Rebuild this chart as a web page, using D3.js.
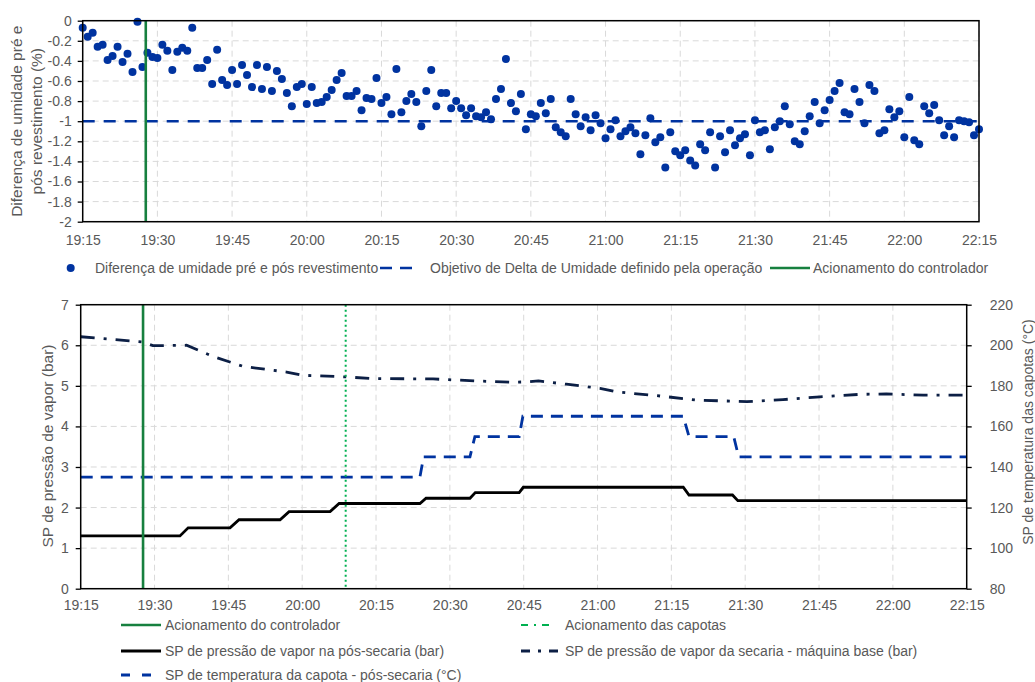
<!DOCTYPE html>
<html>
<head>
<meta charset="utf-8">
<script src="https://cdn.jsdelivr.net/npm/d3@7"></script>
<style>
  body { margin: 0; background: #fff; }
  svg text { font-family: "Liberation Sans", Arial, sans-serif; fill: #595959; font-size: 14px; }
</style>
</head>
<body>
<svg id="chart" width="1035" height="682"></svg>
<script>
// ---------- data ----------
const startTime = "19:15";
const endTime = "22:15";
const timeTicks = ["19:15","19:30","19:45","20:00","20:15","20:30","20:45","21:00","21:15","21:30","21:45","22:00","22:15"];

// humidity difference (pre vs post coating), one reading per minute from 19:15
const humidityDiff = [
  -0.07,-0.16,-0.12,-0.26,-0.24,-0.39,-0.35,-0.26,-0.41,-0.33,
  -0.51,-0.01,-0.46,-0.32,-0.36,-0.37,-0.24,-0.30,-0.49,-0.31,
  -0.27,-0.30,-0.07,-0.47,-0.47,-0.39,-0.63,-0.29,-0.59,-0.64,
  -0.49,-0.63,-0.44,-0.54,-0.66,-0.44,-0.68,-0.46,-0.70,-0.50,
  -0.58,-0.72,-0.85,-0.66,-0.63,-0.83,-0.66,-0.82,-0.81,-0.76,
  -0.69,-0.59,-0.52,-0.75,-0.75,-0.70,-0.89,-0.77,-0.78,-0.57,
  -0.82,-0.76,-0.93,-0.48,-0.91,-0.80,-0.73,-0.81,-1.05,-0.70,
  -0.49,-0.85,-0.72,-0.72,-0.87,-0.80,-0.87,-0.94,-0.87,-0.95,
  -0.96,-0.91,-0.98,-0.78,-0.68,-0.38,-0.82,-0.90,-0.73,-1.08,
  -0.93,-0.95,-0.82,-0.92,-0.78,-1.06,-1.11,-1.15,-0.78,-0.93,
  -1.05,-0.96,-1.09,-0.94,-1.02,-1.17,-1.08,-0.99,-1.15,-1.10,
  -1.06,-1.12,-1.33,-1.14,-0.97,-1.21,-1.16,-1.46,-1.11,-1.30,
  -1.34,-1.29,-1.39,-1.44,-1.23,-1.29,-1.11,-1.46,-1.15,-1.31,
  -1.09,-1.24,-1.17,-1.13,-1.34,-0.99,-1.11,-1.09,-1.28,-1.06,
  -1.00,-0.85,-1.03,-1.20,-1.23,-1.10,-0.95,-0.81,-1.02,-0.89,
  -0.79,-0.70,-0.62,-0.91,-0.93,-0.68,-0.81,-1.02,-0.64,-0.70,
  -1.12,-1.09,-0.88,-0.96,-0.90,-1.16,-0.76,-1.19,-1.23,-0.85,
  -0.92,-0.84,-0.99,-1.14,-1.05,-1.16,-0.99,-1.00,-1.01,-1.14,
  -1.08
];
const humidityTarget = -1;
const humidityTicks = [0,-0.2,-0.4,-0.6,-0.8,-1,-1.2,-1.4,-1.6,-1.8,-2];

const controllerOn = "19:27:40";
const hoodsOn = "20:08:50";

// post-dryer steam pressure set point (bar)
const postDryerSteamSP = [
  ["19:15:00",1.3],["19:35:10",1.3],["19:36:50",1.5],["19:45:20",1.5],["19:47:10",1.7],
  ["19:55:30",1.7],["19:57:20",1.9],["20:05:40",1.9],["20:07:30",2.1],["20:23:55",2.1],
  ["20:25:10",2.23],["20:34:05",2.23],["20:35:10",2.37],["20:44:05",2.37],["20:44:55",2.5],
  ["21:17:25",2.5],["21:18:35",2.31],["21:27:25",2.31],["21:28:30",2.17],["22:15:00",2.17]
];
// base machine dryer steam pressure set point (bar)
const baseDryerSteamSP = [
  ["19:15:00",6.21],["19:27:40",6.08],["19:29:40",5.99],["19:36:30",6.0],["19:42:00",5.72],
  ["19:48:00",5.48],["19:56:50",5.34],["20:00:10",5.26],["20:09:00",5.22],["20:13:50",5.18],
  ["20:26:35",5.17],["20:35:25",5.12],["20:42:55",5.09],["20:45:55",5.1],["20:48:00",5.12],
  ["20:53:40",5.04],["21:00:30",4.94],["21:03:55",4.85],["21:12:40",4.75],["21:20:05",4.65],
  ["21:30:20",4.61],["21:37:40",4.66],["21:45:10",4.73],["21:53:20",4.79],["21:58:40",4.8],
  ["22:06:10",4.77],["22:15:00",4.77]
];
// hood temperature set point (°C)
const hoodTempSP = [
  ["19:15:00",135],["20:23:55",135],["20:24:40",145],["20:34:05",145],["20:35:05",155],
  ["20:44:05",155],["20:44:50",165],["21:17:25",165],["21:18:35",155],["21:27:40",155],
  ["21:28:40",145],["22:15:00",145]
];
const pressureTicks = [0,1,2,3,4,5,6,7];
const tempTicks = [80,100,120,140,160,180,200,220];

// ---------- helpers ----------
const parseT = s => d3.timeParse("%H:%M:%S")(s.length === 5 ? s + ":00" : s);
const t0 = parseT(startTime), t1 = parseT(endTime);
const tickDates = timeTicks.map(parseT);
const fmtTime = d3.timeFormat("%H:%M");

const COL_DOT = "#0033A0";
const COL_GREEN = "#17803F";
const COL_LGREEN = "#00B050";
const COL_NAVY = "#0C1F45";
const COL_GRID = "#D9D9D9";
const COL_TXT = "#595959";

const svg = d3.select("#chart");

function grid(g, x, y, xTicks, yTicks, x0, x1, y0, y1) {
  g.selectAll(".hg").data(yTicks).join("line")
    .attr("x1", x0).attr("x2", x1)
    .attr("y1", d => y(d)).attr("y2", d => y(d))
    .attr("stroke", COL_GRID).attr("stroke-width", 1).attr("stroke-dasharray", "6,4");
  g.selectAll(".vg").data(xTicks).join("line")
    .attr("y1", y0).attr("y2", y1)
    .attr("x1", d => x(d)).attr("x2", d => x(d))
    .attr("stroke", COL_GRID).attr("stroke-width", 1).attr("stroke-dasharray", "6,4");
}

function styleAxis(g) {
  g.selectAll("path.domain").remove();
  g.selectAll(".tick line").attr("stroke", "#000").attr("stroke-width", 1.3);
  g.selectAll(".tick text").attr("fill", COL_TXT)
    .style("font-family", '"Liberation Sans", Arial, sans-serif').style("font-size", "14px");
}

// ---------- top chart: humidity difference ----------
{
  const L = 82.7, R = 979, T = 20.7, B = 221.7;
  const x = d3.scaleTime().domain([t0, t1]).range([L, R]);
  const y = d3.scaleLinear().domain([-2, 0]).range([B, T]);
  const g = svg.append("g");

  grid(g.append("g"), x, y, tickDates, humidityTicks, L, R, T, B);

  const pts = humidityDiff.map((v, i) => ({ t: d3.timeMinute.offset(t0, i), v }));
  g.append("g").selectAll("circle").data(pts).join("circle")
    .attr("cx", d => x(d.t)).attr("cy", d => y(d.v)).attr("r", 4)
    .attr("fill", COL_DOT);

  g.append("line")
    .attr("x1", L).attr("x2", R).attr("y1", y(humidityTarget)).attr("y2", y(humidityTarget))
    .attr("stroke", COL_DOT).attr("stroke-width", 2.6).attr("stroke-dasharray", "12,9");

  g.append("line")
    .attr("x1", x(parseT(controllerOn))).attr("x2", x(parseT(controllerOn)))
    .attr("y1", T).attr("y2", B)
    .attr("stroke", COL_GREEN).attr("stroke-width", 2.6);

  g.append("rect").attr("x", L).attr("y", T).attr("width", R - L).attr("height", B - T)
    .attr("fill", "none").attr("stroke", "#000").attr("stroke-width", 1.5);

  const ay = g.append("g").attr("transform", `translate(${L},0)`)
    .call(d3.axisLeft(y).tickValues(humidityTicks).tickSize(5).tickPadding(6)
      .tickFormat(d => String(d)));
  styleAxis(ay);

  const ax = g.append("g").attr("transform", `translate(0,${B})`)
    .call(d3.axisBottom(x).tickValues(tickDates).tickSize(0).tickPadding(13).tickFormat(fmtTime));
  styleAxis(ax);

  const title = g.append("text").attr("text-anchor", "middle").style("font-size", "15.5px")
    .attr("transform", `translate(22,${(T + B) / 2}) rotate(-90)`);
  title.append("tspan").attr("x", 0).attr("dy", 0).text("Diferença de umidade pré e");
  title.append("tspan").attr("x", 0).attr("dy", 20).text("pós revestimento (%)");

  // legend
  const lg = g.append("g");
  const ly = 268;
  lg.append("circle").attr("cx", 70.7).attr("cy", ly).attr("r", 4).attr("fill", COL_DOT);
  lg.append("text").attr("x", 95).attr("y", ly).attr("dy", "0.35em").text("Diferença de umidade pré e pós revestimento");
  lg.append("line").attr("x1", 380).attr("x2", 412).attr("y1", ly).attr("y2", ly)
    .attr("stroke", COL_DOT).attr("stroke-width", 2.6).attr("stroke-dasharray", "12,8");
  lg.append("text").attr("x", 430).attr("y", ly).attr("dy", "0.35em").text("Objetivo de Delta de Umidade definido pela operação");
  lg.append("line").attr("x1", 770).attr("x2", 810).attr("y1", ly).attr("y2", ly)
    .attr("stroke", COL_GREEN).attr("stroke-width", 2.6);
  lg.append("text").attr("x", 813).attr("y", ly).attr("dy", "0.35em").text("Acionamento do controlador");
}

// ---------- bottom chart: set points ----------
{
  const L = 80.7, R = 966.7, T = 304.7, B = 588.7;
  const x = d3.scaleTime().domain([t0, t1]).range([L, R]);
  const yP = d3.scaleLinear().domain([0, 7]).range([B, T]);
  const yT = d3.scaleLinear().domain([80, 220]).range([B, T]);
  const g = svg.append("g");

  grid(g.append("g"), x, yP, tickDates, pressureTicks, L, R, T, B);

  const lineP = d3.line().x(d => x(parseT(d[0]))).y(d => yP(d[1]));
  const lineT = d3.line().x(d => x(parseT(d[0]))).y(d => yT(d[1]));

  g.append("path").attr("d", lineT(hoodTempSP)).attr("fill", "none")
    .attr("stroke", COL_DOT).attr("stroke-width", 2.8).attr("stroke-dasharray", "12,8");
  g.append("path").attr("d", lineP(baseDryerSteamSP)).attr("fill", "none")
    .attr("stroke", COL_NAVY).attr("stroke-width", 2.8).attr("stroke-dasharray", "14,9,3,9");
  g.append("path").attr("d", lineP(postDryerSteamSP)).attr("fill", "none")
    .attr("stroke", "#000").attr("stroke-width", 2.8);

  g.append("line")
    .attr("x1", x(parseT(controllerOn))).attr("x2", x(parseT(controllerOn)))
    .attr("y1", T).attr("y2", B).attr("stroke", COL_GREEN).attr("stroke-width", 2.6);
  g.append("line")
    .attr("x1", x(parseT(hoodsOn))).attr("x2", x(parseT(hoodsOn)))
    .attr("y1", T).attr("y2", B).attr("stroke", COL_LGREEN).attr("stroke-width", 2)
    .attr("stroke-dasharray", "2,3");

  g.append("rect").attr("x", L).attr("y", T).attr("width", R - L).attr("height", B - T)
    .attr("fill", "none").attr("stroke", "#000").attr("stroke-width", 1.5);

  const ayL = g.append("g").attr("transform", `translate(${L},0)`)
    .call(d3.axisLeft(yP).tickValues(pressureTicks).tickSize(5).tickPadding(7).tickFormat(d3.format("d")));
  styleAxis(ayL);
  const ayR = g.append("g").attr("transform", `translate(${R},0)`)
    .call(d3.axisRight(yT).tickValues(tempTicks).tickSize(5).tickPadding(18).tickFormat(d3.format("d")));
  styleAxis(ayR);
  const ax = g.append("g").attr("transform", `translate(0,${B})`)
    .call(d3.axisBottom(x).tickValues(tickDates).tickSize(0).tickPadding(11).tickFormat(fmtTime));
  styleAxis(ax);

  g.append("text").attr("text-anchor", "middle").style("font-size", "15.5px")
    .attr("transform", `translate(53,446) rotate(-90)`).text("SP de pressão de vapor (bar)");
  g.append("text").attr("text-anchor", "middle")
    .attr("transform", `translate(1033,432) rotate(-90)`).text("SP de temperatura das capotas (°C)");

  // legend
  const lg = g.append("g");
  const rows = [625, 651, 675];
  const items = [
    { x: 121, w: 40, y: rows[0], color: COL_GREEN, width: 2.6, dash: null, tx: 165, label: "Acionamento do controlador" },
    { x: 521, w: 33, y: rows[0], color: COL_LGREEN, width: 2.2, dash: "7,6,2,6", tx: 565, label: "Acionamento das capotas" },
    { x: 121, w: 40, y: rows[1], color: "#000", width: 2.8, dash: null, tx: 165, label: "SP de pressão de vapor na pós-secaria (bar)" },
    { x: 521, w: 41, y: rows[1], color: COL_NAVY, width: 2.8, dash: "9,8,3,8", tx: 565, label: "SP de pressão de vapor da secaria - máquina base (bar)" },
    { x: 121, w: 40, y: rows[2], color: COL_DOT, width: 2.8, dash: "9,12", tx: 165, label: "SP de temperatura da capota - pós-secaria (°C)" }
  ];
  items.forEach(it => {
    const ln = lg.append("line").attr("x1", it.x).attr("x2", it.x + it.w)
      .attr("y1", it.y).attr("y2", it.y)
      .attr("stroke", it.color).attr("stroke-width", it.width);
    if (it.dash) ln.attr("stroke-dasharray", it.dash);
    lg.append("text").attr("x", it.tx).attr("y", it.y).attr("dy", "0.35em").text(it.label);
  });
}
</script>
</body>
</html>
